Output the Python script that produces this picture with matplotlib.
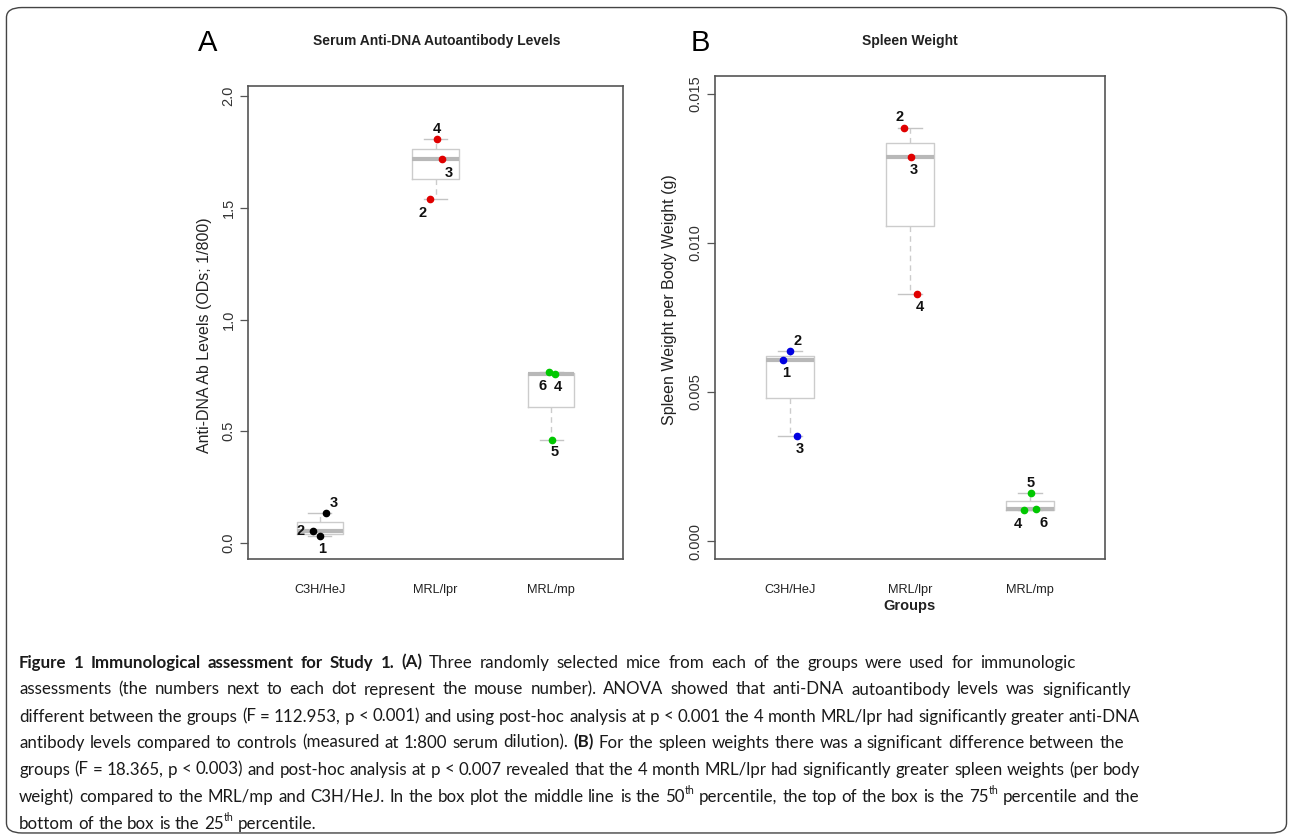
import re
import numpy as np
import matplotlib.pyplot as plt
from matplotlib.patches import FancyBboxPatch

# ---- data ----
groups = ["C3H/HeJ", "MRL/lpr", "MRL/mp"]

# panel A: anti-DNA Ab levels (OD, 1/800)
dna_ids = [["3", "2", "1"], ["4", "3", "2"], ["6", "4", "5"]]
dna_vals = [[0.134, 0.055, 0.030], [1.808, 1.718, 1.539], [0.765, 0.756, 0.461]]
dna_jit = [[0.05, -0.06, 0.0], [0.013, 0.056, -0.048], [-0.017, 0.035, 0.009]]
dna_pos = [["ur", "l", "b"], ["a", "br", "bl"], ["bl", "b", "b"]]
dna_cols = ["black", "#e00000", "#00c800"]

# panel B: spleen weight per body weight (g)
spl_ids = [["2", "1", "3"], ["2", "3", "4"], ["5", "4", "6"]]
spl_vals = [[0.00637, 0.00607, 0.00352], [0.01385, 0.01288, 0.00828], [0.00161, 0.00104, 0.00107]]
spl_jit = [[0.0, -0.055, 0.06], [-0.05, 0.008, 0.058], [0.005, -0.05, 0.05]]
spl_pos = [["ur", "b", "b"], ["al", "b", "b"], ["a", "bl", "br"]]
spl_cols = ["#0000e0", "#e00000", "#00c800"]

NARROW = ["Liberation Sans Narrow", "Liberation Sans", "DejaVu Sans"]
ARIAL = ["Liberation Sans", "DejaVu Sans"]

offs = {"a": (0, 7), "al": (-3, 8), "ur": (6, 7), "b": (2, -9), "bl": (-5, -10),
        "br": (5, -10), "l": (-9, 0), "r": (9, 0)}

fig = plt.figure(figsize=(12.93, 8.38), dpi=100)

frame = FancyBboxPatch((0.005, 0.006), 0.99, 0.985, boxstyle="round,pad=0,rounding_size=0.012",
                       transform=fig.transFigure, fill=False, ec="#444444", lw=1.0)
fig.patches.append(frame)


def panel(ax, vals, jit, ids, pos, cols, ylim, yticks, yfmt, ylabel):
    ax.boxplot(vals, positions=[1, 2, 3], widths=0.4, whis=(0, 100), showfliers=False,
               boxprops=dict(color="#cccccc", lw=1.0),
               medianprops=dict(color="#b8b8b8", lw=3.0),
               whiskerprops=dict(color="#cccccc", lw=1.0, ls=(0, (4, 3))),
               capprops=dict(color="#c4c4c4", lw=1.0))
    for i in range(3):
        for v, j, lab, p in zip(vals[i], jit[i], ids[i], pos[i]):
            ax.plot(i + 1 + j, v, "o", color=cols[i], ms=4.5, mec=cols[i], zorder=5)
            ax.annotate(lab, (i + 1 + j, v), xytext=offs[p], textcoords="offset points",
                        ha="center", va="center", fontsize=10.5, fontweight="bold",
                        family=NARROW, color="#111111")
    ax.set_xlim(0.38, 3.62)
    ax.set_ylim(*ylim)
    ax.set_yticks(yticks)
    ax.set_yticklabels([yfmt % t for t in yticks], rotation=90, va="center",
                       family=ARIAL, fontsize=10.5, color="#333333")
    ax.set_xticks([1, 2, 3])
    ax.set_xticklabels(groups, family=NARROW, fontsize=9.2, color="#222222")
    ax.tick_params(axis="x", length=0, pad=18)
    ax.tick_params(axis="y", length=6, width=0.9, color="#555555", pad=3)
    for s in ax.spines.values():
        s.set_color("#555555")
        s.set_linewidth(1.2)
    ax.set_ylabel(ylabel, family=ARIAL, fontsize=11.5, color="#222222")


axA = fig.add_axes([248 / 1293, 1 - 559 / 838, 375 / 1293, 473 / 838])
panel(axA, dna_vals, dna_jit, dna_ids, dna_pos, dna_cols, (-0.0716, 2.045),
      [0.0, 0.5, 1.0, 1.5, 2.0], "%.1f", "Anti-DNA Ab Levels (ODs; 1/800)")
axA.yaxis.set_label_coords(-0.096, (559 - 335) / 473)

axB = fig.add_axes([715 / 1293, 1 - 559 / 838, 390 / 1293, 483 / 838])
panel(axB, spl_vals, spl_jit, spl_ids, spl_pos, spl_cols, (-0.0006, 0.0156),
      [0.0, 0.005, 0.010, 0.015], "%.3f", "Spleen Weight per Body Weight (g)")
axB.yaxis.set_label_coords(-0.097, (559 - 300) / 483)

fig.text(437 / 1293, 1 - 41 / 838, "Serum Anti-DNA Autoantibody Levels", ha="center", va="center",
         family=NARROW, fontsize=10, fontweight="bold", color="#222222")
fig.text(910 / 1293, 1 - 41 / 838, "Spleen Weight", ha="center", va="center",
         family=NARROW, fontsize=10, fontweight="bold", color="#222222")
fig.text(208 / 1293, 1 - 43 / 838, "A", ha="center", va="center", family=ARIAL, fontsize=21)
fig.text(700 / 1293, 1 - 43 / 838, "B", ha="center", va="center", family=ARIAL, fontsize=21)
fig.text(910 / 1293, 1 - 606 / 838, "Groups", ha="center", va="center",
         family=NARROW, fontsize=10.5, fontweight="bold", color="#222222")

# ---- caption ----
CAP = ["Lato", "Open Sans", "DejaVu Sans"]
cap_size = 12.2
caption = [
    [("Figure 1 Immunological assessment for Study 1. (A)", "bold"),
     (" Three randomly selected mice from each of the groups were used for immunologic", "normal")],
    [("assessments (the numbers next to each dot represent the mouse number). ANOVA showed that anti-DNA autoantibody levels was significantly", "normal")],
    [("different between the groups (F = 112.953, p < 0.001) and using post-hoc analysis at p < 0.001 the 4 month MRL/lpr had significantly greater anti-DNA", "normal")],
    [("antibody levels compared to controls (measured at 1:800 serum dilution). ", "normal"), ("(B)", "bold"),
     (" For the spleen weights there was a significant difference between the", "normal")],
    [("groups (F = 18.365, p < 0.003) and post-hoc analysis at p < 0.007 revealed that the 4 month MRL/lpr had significantly greater spleen weights (per body", "normal")],
    [("weight) compared to the MRL/mp and C3H/HeJ. In the box plot the middle line is the 50", "normal"), ("th", "sup"),
     (" percentile, the top of the box is the 75", "normal"), ("th", "sup"), (" percentile and the", "normal")],
    [("bottom of the box is the 25", "normal"), ("th", "sup"), (" percentile.", "normal")],
]
line_y = [661, 688, 715, 741, 768, 795, 822]
line_end = [1114, 1131, 1140, 1124, 1140, 1139, None]

fig.canvas.draw()
r = fig.canvas.get_renderer()


def width(s, w):
    t = fig.text(0, 0, s, family=CAP, fontsize=cap_size, fontweight=w)
    wd = t.get_window_extent(r).width
    t.remove()
    return wd


sp = width("x x", "normal") - width("xx", "normal")

for runs, yy, xend in zip(caption, line_y, line_end):
    toks = []
    for txt, kind in runs:
        for piece in re.split(r"( )", txt):
            if piece:
                toks.append((piece, kind))
    n_sp = sum(1 for p, k in toks if p == " ")
    objs = []
    for piece, kind in toks:
        if piece == " ":
            objs.append(None)
            continue
        w = "bold" if kind == "bold" else "normal"
        sz = cap_size * 0.62 if kind == "sup" else cap_size
        dy = -6 if kind == "sup" else 0
        t = fig.text(0, 1 - (yy + dy) / 838, piece, ha="left", va="center_baseline",
                     family=CAP, fontsize=sz, fontweight=w, color="#1a1a1a")
        objs.append((t, t.get_window_extent(r).width))
    natural = sum(o[1] for o in objs if o) + n_sp * sp
    gap = sp
    if xend is not None and n_sp:
        extra = (xend - 19 - natural) / n_sp
        gap = sp + min(max(extra, -0.3 * sp), 0.6 * sp)
    x = 19.0
    for o in objs:
        if o is None:
            x += gap
        else:
            o[0].set_x(x / 1293)
            x += o[1]

fig.savefig("out.png", dpi=100)
